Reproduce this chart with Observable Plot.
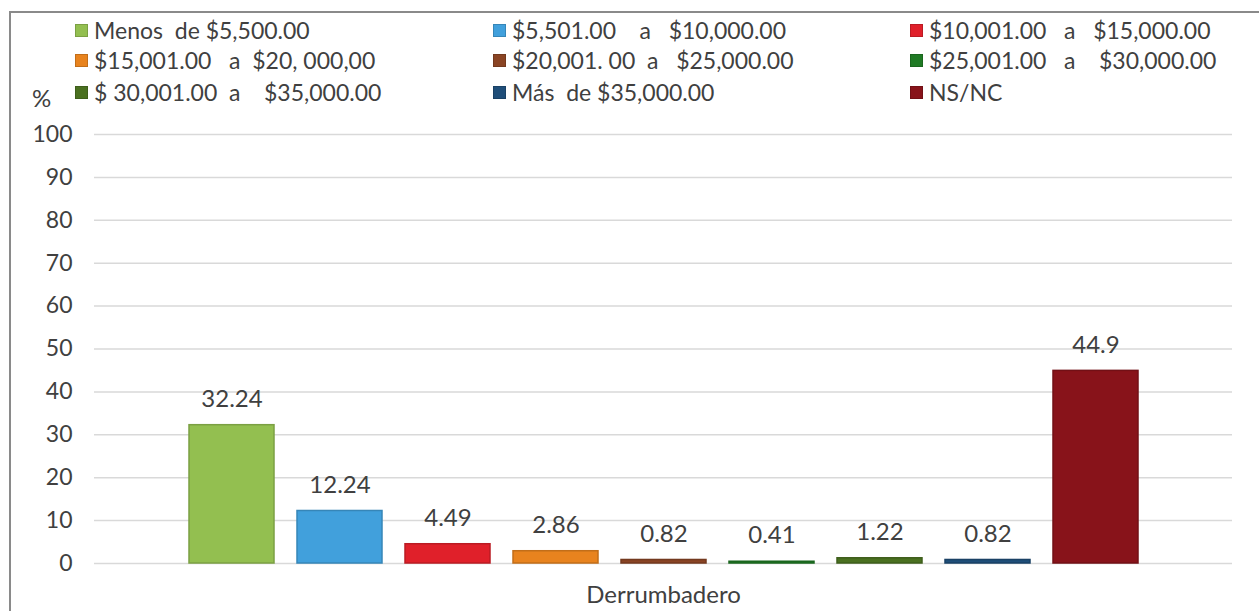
<!DOCTYPE html>
<html><head><meta charset="utf-8">
<script src="https://cdn.jsdelivr.net/npm/d3@7"></script>
<script src="https://cdn.jsdelivr.net/npm/@observablehq/plot@0.6"></script>
<style>
body{margin:0;background:#fff;font-family:Lato,"Open Sans",sans-serif;}
#wrap{position:relative;width:1259px;height:611px;overflow:hidden;background:#fff;}
#frame{position:absolute;left:9px;top:11px;width:1400px;height:700px;border-left:2px solid #8a8a8a;border-top:2px solid #8a8a8a;}
.leg{position:absolute;display:flex;align-items:center;white-space:pre;font-size:23px;line-height:30px;height:30px;color:#404040;}
.sw{width:13px;height:13px;margin-right:6px;box-sizing:border-box;border:1px solid;}
#chart{position:absolute;left:0;top:110px;}
#pct{position:absolute;left:32px;top:83px;font-size:24px;color:#404040;line-height:30px;}
</style></head>
<body>
<div id="wrap">
  <div id="frame"></div>
  <div id="legend"></div>
  <div id="pct">%</div>
  <div id="chart"></div>
</div>
<script>
const category = "Derrumbadero";
const series = [
  "Menos  de $5,500.00",
  "$5,501.00    a   $10,000.00",
  "$10,001.00   a   $15,000.00",
  "$15,001.00   a  $20, 000,00",
  "$20,001. 00  a   $25,000.00",
  "$25,001.00   a    $30,000.00",
  "$ 30,001.00  a    $35,000.00",
  "Más  de $35,000.00",
  "NS/NC"
];
const values = [32.24, 12.24, 4.49, 2.86, 0.82, 0.41, 1.22, 0.82, 44.9];
const labels = ["32.24", "12.24", "4.49", "2.86", "0.82", "0.41", "1.22", "0.82", "44.9"];
const colors = ["#93bf50", "#41a0dc", "#e0202a", "#e8831e", "#8a4424", "#1f7a24", "#4a7020", "#1f4e79", "#88131a"];
const yTicks = [0, 10, 20, 30, 40, 50, 60, 70, 80, 90, 100];

// legend layout (row-major, 3 columns)
const legendCols = [75, 493, 910];
const legendRows = [30, 60, 92];

const data = series.map((s, i) => ({
  cat: category, serie: s, value: values[i], label: labels[i],
  fill: colors[i], stroke: d3.color(colors[i]).darker(0.5).formatHex()
}));

const legend = document.getElementById("legend");
data.forEach((d, i) => {
  const el = document.createElement("div");
  el.className = "leg";
  el.style.left = legendCols[i % 3] + "px";
  el.style.top = (legendRows[Math.floor(i / 3)] - 15) + "px";
  const sw = document.createElement("span");
  sw.className = "sw";
  sw.style.background = d.fill;
  sw.style.borderColor = d.stroke;
  el.appendChild(sw);
  el.appendChild(document.createTextNode(d.serie));
  legend.appendChild(el);
});

const chart = Plot.plot({
  width: 1259, height: 501,
  marginLeft: 94, marginRight: 27, marginTop: 24, marginBottom: 48,
  style: {fontFamily: "Lato, 'Open Sans', sans-serif", fontSize: "23px", color: "#404040", background: "transparent", overflow: "visible"},
  fx: {domain: [category], padding: 0, label: null},
  x: {domain: series, paddingInner: 0.213, paddingOuter: 0.875, axis: null},
  y: {domain: [0, 100], label: null},
  color: {type: "identity"},
  marks: [
    Plot.gridY(yTicks, {stroke: "#d9d9d9", strokeOpacity: 1, strokeWidth: 1.5}),
    Plot.axisY({ticks: yTicks, tickSize: 0, tickPadding: 22, label: null, fill: "#404040"}),
    Plot.axisFx({anchor: "bottom", tickSize: 0, tickPadding: 22, label: null, fill: "#404040", fontSize: 24}),
    Plot.barY(data, {fx: "cat", x: "serie", y: "value", fill: "fill", stroke: "stroke", strokeWidth: 1.5}),
    Plot.text(data, {fx: "cat", x: "serie", y: "value", text: "label", dy: -26, fill: "#404040", fontSize: 24})
  ]
});
document.getElementById("chart").appendChild(chart);
</script>
</body></html>
